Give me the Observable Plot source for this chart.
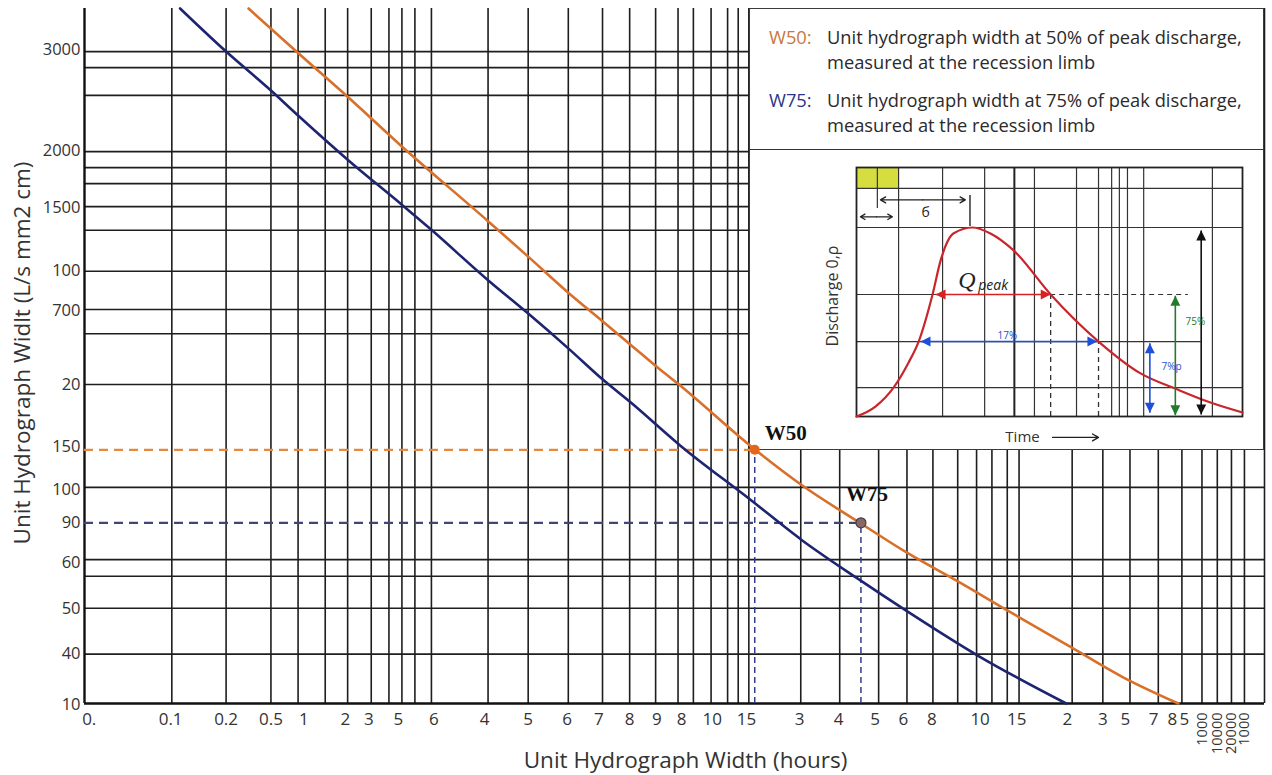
<!DOCTYPE html>
<html>
<head>
<meta charset="utf-8">
<script src="https://cdn.jsdelivr.net/npm/d3@7"></script>
<script src="https://cdn.jsdelivr.net/npm/@observablehq/plot@0.6"></script>
<style>
  html,body{margin:0;padding:0;background:#fff;}
  #wrap{position:relative;width:1272px;height:775px;overflow:hidden;font-family:"Open Sans",sans-serif;}
  .abs{position:absolute;}
  #legendBox{left:749px;top:8px;width:515px;height:442px;background:#fff;border:1.5px solid #3a3a3a;box-sizing:border-box;}
  #legendSep{left:749px;top:149px;width:515px;height:0;border-top:1.6px solid #333;}
  .lg{font-size:18.3px;line-height:22px;white-space:nowrap;color:#2a2a2a;}
</style>
</head>
<body>
<div id="wrap"></div>
<script>
// ---------- Main chart data (positions along the printed, irregular axes; 0–100) ----------
const xGridPos = [7.4,12.0,15.8,18.1,20.4,22.3,24.3,25.8,26.9,28.0,29.4,34.2,37.6,41.0,43.9,46.2,48.4,50.3,51.6,53.1,54.5,55.4,56.3,60.7,64.0,67.3,69.7,71.9,74.0,75.6,76.9,78.2,79.2,83.7,86.3,88.6,91.0,93.0,94.7,96.0,97.2,98.3,100];
const yGridPos = [93.8,91.5,87.5,79.4,77.1,74.8,71.5,68.1,62.2,56.7,53.2,45.9,31.1,20.7,18.3,13.7,7.1];

const xTickLabels = ["0.","0.1","0.2","0.5","1","2","3","5","6","4","5","6","7","8","9","8","10","15","3","4","5","6","8","10","15","2","3","5","7","8","5"];
const xTickPos    = [0.4,7.3,12.0,15.8,18.6,22.1,24.1,26.6,29.6,33.9,37.6,40.9,43.6,46.2,48.5,50.6,53.2,56.1,60.6,63.9,67.0,69.4,71.8,75.9,79.0,83.3,86.3,88.2,90.6,92.2,93.2];
const xRotLabels  = ["1000","10000","20000","1000"];
const xRotPos     = [94.7,96.0,97.2,98.3];

const yTickLabels = ["3000","2000","1500","100","700","20","150","100","90","60","50","40","10"];
const yTickPos    = [94.0,79.6,71.4,62.2,56.5,45.8,37.0,30.8,26.0,20.3,13.7,7.1,-0.2];

const w50X = [13.9,18.1,22.3,26.8,34.2,37.6,41.0,43.9,46.3,48.6,50.3,56.7,60.8,65.8,69.7,74.2,78.2,83.6,88.1,92.7];
const w50Y = [100.0,93.6,87.3,80.3,69.4,64.3,59.1,55.0,51.6,48.3,46.0,36.7,31.4,25.9,21.7,17.4,13.4,8.1,3.7,0];
const w75X = [8.1,12.0,15.8,18.1,22.4,26.8,29.3,34.2,37.6,41.0,44.0,46.3,50.5,56.3,60.8,65.5,69.6,75.7,83.2];
const w75Y = [100,93.8,88.2,84.6,78.1,71.9,68.3,60.9,56.1,51.1,46.5,43.3,37.1,29.5,23.5,18.0,13.4,6.9,0];

const w50Point = {x:56.8, y:36.5, label:"W50"};   // read-off at "150"
const w75Point = {x:65.8, y:26.0, label:"W75"};   // read-off at "90"

const xTitle = "Unit Hydrograph Width (hours)";
const yTitle = "Unit Hydrograph Widlt (L/s mm2 cm)";

// ---------- Inset hydrograph data (time 0–100, discharge 0–100) ----------
const hydroT = [0,4.9,9.6,13.5,16.1,19.7,21.8,25.1,30.1,34.7,40.7,50.3,62.7,73.6,83.2,91.7,100];
const hydroQ = [0,4.0,11.6,21.7,30.1,49.0,62.7,73.5,75.9,73.5,66.7,49.0,30.1,17.3,10.8,5.6,1.6];
const insetVGrid = [10.9,22.3,33.2,46.1,57.0,66.1,68.1,70.2,74.4,92.2];
const insetHGrid = [91.6,75.9,11.6];

// ---------- build ----------
const wrap = document.getElementById("wrap");
const W = 1272, H = 775;
const common = {
  width: W, height: H, marginLeft: 84, marginRight: 8, marginTop: 8, marginBottom: 72,
  x: {domain: [0, 100], axis: null}, y: {domain: [0, 100], axis: null}
};
const zip = (a, b) => a.map((v, i) => ({x: v, y: b[i]}));
const xTicks = xTickLabels.map((label, i) => ({label, pos: xTickPos[i]}));
const xRot = xRotLabels.map((label, i) => ({label, pos: xRotPos[i]}));
const yTicks = yTickLabels.map((label, i) => ({label, pos: yTickPos[i]}));

const gridPlot = Plot.plot({
  ...common,
  style: {background: "transparent", fontFamily: "Open Sans", overflow: "visible"},
  marks: [
    Plot.ruleX(xGridPos, {stroke: "#1e1e1e", strokeWidth: 1.6}),
    Plot.ruleY(yGridPos, {stroke: "#1e1e1e", strokeWidth: 1.6}),
    Plot.ruleX([0], {stroke: "#111", strokeWidth: 2.4}),
    Plot.ruleY([0], {stroke: "#111", strokeWidth: 2.4}),
    Plot.text(xTicks, {x: "pos", y: 0, text: "label", dy: 16, fontSize: 17, fill: "#333"}),
    Plot.text(xRot, {x: "pos", y: 0, text: "label", dy: 9, rotate: -90, textAnchor: "end", fontSize: 14.5, fill: "#333"}),
    Plot.text(yTicks, {x: 0, y: "pos", text: "label", dx: -4, textAnchor: "end", fontSize: 16.5, fill: "#333"}),
    Plot.text([xTitle], {text: d => d, frameAnchor: "bottom", textAnchor: "middle", lineAnchor: "middle", dx: 11, dy: 57, fontSize: 22.5, fill: "#333"}),
    Plot.text([yTitle], {text: d => d, frameAnchor: "left", textAnchor: "middle", lineAnchor: "middle", rotate: -90, dx: -62, dy: -3, fontSize: 22.5, fill: "#333"})
  ]
});
gridPlot.style.position = "absolute"; gridPlot.style.left = "0px"; gridPlot.style.top = "0px";
wrap.appendChild(gridPlot);

// legend box (drawn over the grid)
function div(cls, id, style, html) {
  const d = document.createElement("div");
  d.className = cls; if (id) d.id = id;
  Object.assign(d.style, style || {});
  if (html) d.innerHTML = html;
  wrap.appendChild(d);
  return d;
}
div("abs", "legendBox");
div("abs", "legendSep");
div("abs lg", null, {left: "769px", top: "26px", color: "#c9783c"}, "W50:");
div("abs lg", null, {left: "827px", top: "26px"}, "Unit hydrograph width at 50% of peak discharge,");
div("abs lg", null, {left: "827px", top: "51px"}, "measured at the recession limb");
div("abs lg", null, {left: "769px", top: "89px", color: "#2c348a"}, "W75:");
div("abs lg", null, {left: "827px", top: "89px"}, "Unit hydrograph width at 75% of peak discharge,");
div("abs lg", null, {left: "827px", top: "114px"}, "measured at the recession limb");

const dataPlot = Plot.plot({
  ...common,
  style: {background: "transparent", fontFamily: "Open Sans", overflow: "visible"},
  marks: [
    Plot.ruleY([w50Point], {y: "y", x1: 0, x2: "x", stroke: "#e38a3e", strokeWidth: 2.2, strokeDasharray: "9,6"}),
    Plot.ruleY([w75Point], {y: "y", x1: 0, x2: "x", stroke: "#3f4674", strokeWidth: 2.2, strokeDasharray: "9,6"}),
    Plot.ruleX([w50Point, w75Point], {x: "x", y1: 0, y2: "y", stroke: "#2f3c8e", strokeWidth: 1.5, strokeDasharray: "6,4"}),
    Plot.line(zip(w50X, w50Y), {x: "x", y: "y", stroke: "#d8702a", strokeWidth: 2.6, curve: "monotone-x"}),
    Plot.line(zip(w75X, w75Y), {x: "x", y: "y", stroke: "#1d2470", strokeWidth: 2.6, curve: "monotone-x"}),
    Plot.dot([w50Point], {x: "x", y: "y", r: 5, fill: "#e3661c"}),
    Plot.dot([w75Point], {x: "x", y: "y", r: 5, fill: "#86686a", stroke: "#4d3b3d", strokeWidth: 1.2}),
    Plot.text([w50Point], {x: "x", y: "y", text: "label", dx: 31, dy: -17, fontFamily: "Liberation Serif", fontWeight: "bold", fontSize: 21, fill: "#111"}),
    Plot.text([w75Point], {x: "x", y: "y", text: "label", dx: 6, dy: -29, fontFamily: "Liberation Serif", fontWeight: "bold", fontSize: 21, fill: "#111"})
  ]
});
dataPlot.style.position = "absolute"; dataPlot.style.left = "0px"; dataPlot.style.top = "0px";
wrap.appendChild(dataPlot);

// ---------- inset ----------
const tipTriangle = {draw(ctx, size) { const h = Math.sqrt(size) * 1.6, w = h * 0.5; ctx.moveTo(0, 0); ctx.lineTo(w, h); ctx.lineTo(-w, h); ctx.closePath(); }};
const insetArrows = [
  {x1: 20.5, y1: 49.0, x2: 50.3, y2: 49.0, c: "#d62222", r1: -90, r2: 90},
  {x1: 16.6, y1: 30.1, x2: 62.4, y2: 30.1, c: "#1f4fd8", r1: -90, r2: 90},
  {x1: 76.0, y1: 29.4, x2: 76.0, y2: 1.5, c: "#1f4fd8", r1: 0, r2: 180},
  {x1: 82.6, y1: 48.5, x2: 82.6, y2: 0.5, c: "#237a2b", r1: 0, r2: 180},
  {x1: 89.3, y1: 74.7, x2: 89.3, y2: 0.8, c: "#111", r1: 0, r2: 180}
];
const heads = insetArrows.flatMap(a => [{x: a.x1, y: a.y1, c: a.c, r: a.r1}, {x: a.x2, y: a.y2, c: a.c, r: a.r2}]);
const openArrows = [
  {xm: 5.15, y: 80.2, x1: 1.0, x2: 9.3},
  {xm: 17.2, y: 87.0, x1: 6.2, x2: 28.2}
];
const openHalves = openArrows.flatMap(a => [{x1: a.xm, x2: a.x1, y: a.y}, {x1: a.xm, x2: a.x2, y: a.y}]);
const cells = [{x1: 0, x2: 5.4, y1: 91.6, y2: 100}, {x1: 5.4, x2: 10.9, y1: 91.6, y2: 100}];
const qLabel = [{x: 28.6, y: 54.6, t: "Q"}];
const peakLabel = [{x: 35.4, y: 52.6, t: "peak"}];
const smallLabels = [
  {x: 39.1, y: 32.6, t: "17%", c: "#1f4fd8"},
  {x: 81.6, y: 19.8, t: "7%p", c: "#1f4fd8"},
  {x: 87.8, y: 37.9, t: "75%", c: "#237a2b"}
];
const sigmaLabel = [{x: 17.9, y: 82.0, t: "б"}];

const inset = Plot.plot({
  width: 460, height: 295, marginLeft: 56, marginRight: 18, marginTop: 15, marginBottom: 31,
  x: {domain: [0, 100], axis: null}, y: {domain: [0, 100], axis: null},
  style: {background: "transparent", fontFamily: "Open Sans", overflow: "visible"},
  marks: [
    Plot.rect(cells, {x1: "x1", x2: "x2", y1: "y1", y2: "y2", fill: "#d5de3e"}),
    Plot.ruleX(insetVGrid, {stroke: "#333", strokeWidth: 1.2}),
    Plot.ruleX([40.9], {stroke: "#222", strokeWidth: 2}),
    Plot.ruleX([62.7], {y1: 30.1, y2: 100, stroke: "#333", strokeWidth: 1.2}),
    Plot.ruleX([5.4], {y1: 83.5, y2: 100, stroke: "#333", strokeWidth: 1.2}),
    Plot.ruleX([29.4], {y1: 76.3, y2: 88.8, stroke: "#222", strokeWidth: 1.4}),
    Plot.ruleY(insetHGrid, {stroke: "#333", strokeWidth: 1.2}),
    Plot.ruleY([49.0], {x1: 0, x2: 50.3, stroke: "#333", strokeWidth: 1.2}),
    Plot.ruleY([49.0], {x1: 50.3, x2: 86.0, stroke: "#333", strokeWidth: 1.2, strokeDasharray: "5,4"}),
    Plot.ruleY([30.1], {x1: 0, x2: 89.3, stroke: "#333", strokeWidth: 1.2}),
    Plot.ruleX([50.3], {y1: 0, y2: 49.0, stroke: "#333", strokeWidth: 1.3, strokeDasharray: "5,4"}),
    Plot.ruleX([62.7], {y1: 0, y2: 30.1, stroke: "#333", strokeWidth: 1.3, strokeDasharray: "5,4"}),
    Plot.frame({stroke: "#222", strokeWidth: 1.8}),
    Plot.line(zip(hydroT, hydroQ), {x: "x", y: "y", stroke: "#c8262c", strokeWidth: 2.2, curve: "monotone-x"}),
    Plot.link(insetArrows, {x1: "x1", y1: "y1", x2: "x2", y2: "y2", stroke: "c", strokeWidth: 1.6}),
    Plot.dot(heads, {x: "x", y: "y", fill: "c", rotate: "r", symbol: tipTriangle, r: 3.5}),
    Plot.arrow(openHalves, {x1: "x1", x2: "x2", y1: "y", y2: "y", stroke: "#222", strokeWidth: 1.3, headLength: 7}),
    Plot.text(qLabel, {x: "x", y: "y", text: "t", fontSize: 24, fill: "#222", fontStyle: "italic", fontFamily: "Liberation Serif"}),
    Plot.text(peakLabel, {x: "x", y: "y", text: "t", fontSize: 14, fill: "#222", fontStyle: "italic", fontFamily: "Open Sans"}),
    Plot.text(smallLabels, {x: "x", y: "y", text: "t", fontSize: 10, fill: "c", fontFamily: "Open Sans"}),
    Plot.text(sigmaLabel, {x: "x", y: "y", text: "t", fontSize: 14, fill: "#222", fontFamily: "Open Sans"}),
    Plot.text(["Discharge 0,ρ"], {text: d => d, frameAnchor: "left", textAnchor: "middle", lineAnchor: "middle", rotate: -90, dx: -24, dy: 4, fontSize: 16, fill: "#333"}),
    Plot.text(["Time"], {text: d => d, frameAnchor: "bottom", textAnchor: "middle", lineAnchor: "middle", dx: -27, dy: 21, fontSize: 15, fill: "#333"}),
    Plot.arrow([{x1: 50.8, x2: 62.7, y: -8.4}], {x1: "x1", x2: "x2", y1: "y", y2: "y", stroke: "#222", strokeWidth: 1.3, headLength: 8})
  ]
});
inset.style.position = "absolute"; inset.style.left = "800px"; inset.style.top = "152px";
wrap.appendChild(inset);
</script>
</body>
</html>
